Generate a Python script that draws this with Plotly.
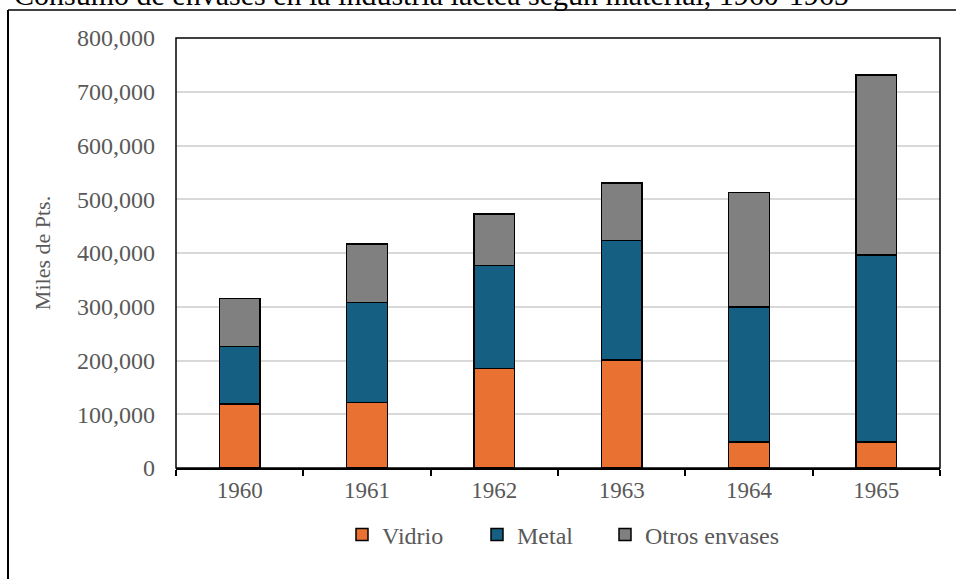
import plotly.graph_objects as go

years = ["1960", "1961", "1962", "1963", "1964", "1965"]
vidrio = [119000, 122000, 185000, 201000, 48000, 48000]
metal = [107000, 186000, 192000, 222000, 252000, 348000]
otros = [89000, 109000, 96000, 107000, 213000, 335000]
series_names = ["Vidrio", "Metal", "Otros envases"]
colors = ["#E97132", "#156082", "#808080"]
y_ticks = [0, 100000, 200000, 300000, 400000, 500000, 600000, 700000, 800000]
title_text = "Consumo de envases en la industria láctea según material, 1960-1965"
y_title = "Miles de Pts."

FONT = "Liberation Serif"

W, H = 956, 579
L, R, T, B = 176, 16, 38, 111
pw, ph = W - L - R, H - T - B

def px_x(p):
    return (p - L) / pw

def px_y(p):
    return 1 - (p - T) / ph

legend_ids = ["legend", "legend2", "legend3"]
legend_x_px = [342, 477, 605]

fig = go.Figure()
for name, vals, col, lid in zip(series_names, [vidrio, metal, otros], colors, legend_ids):
    fig.add_trace(go.Bar(
        x=years, y=vals, name=name, width=0.32, legend=lid,
        marker=dict(color=col, line=dict(color="black", width=1.5)),
    ))

legend_common = dict(orientation="h", xanchor="left", y=px_y(535), yanchor="middle",
                     font=dict(family=FONT, size=24, color="#595959"),
                     bgcolor="rgba(0,0,0,0)")

fig.update_layout(
    width=W, height=H,
    barmode="stack",
    plot_bgcolor="white", paper_bgcolor="white",
    margin=dict(l=L, r=R, t=T, b=B, pad=0),
    font=dict(family=FONT, size=22, color="#595959"),
    showlegend=True,
    legend=dict(x=px_x(legend_x_px[0]), **legend_common),
    legend2=dict(x=px_x(legend_x_px[1]), **legend_common),
    legend3=dict(x=px_x(legend_x_px[2]), **legend_common),
    xaxis=dict(type="category", showline=True, linecolor="black", linewidth=2,
               ticks="outside", tickson="boundaries", ticklen=6, tickcolor="black", tickwidth=1.5,
               tickfont=dict(family=FONT, size=23, color="#595959"), showgrid=False,
               mirror=False, fixedrange=True),
    yaxis=dict(range=[0, 800000], tickvals=y_ticks, tickformat=",", showgrid=True,
               gridcolor="#D9D9D9", gridwidth=1.5, zeroline=False, showline=False,
               ticks="", ticklabelstandoff=20,
               tickfont=dict(family=FONT, size=24, color="#595959"),
               title=dict(text=y_title, font=dict(family=FONT, size=22, color="#595959"), standoff=20)),
)

# plot-area border
fig.add_shape(type="rect", xref="paper", yref="paper", x0=0, x1=1, y0=0, y1=1,
              line=dict(color="black", width=1.5), fillcolor="rgba(0,0,0,0)", layer="above")
# outer frame lines (top and left)
fig.add_shape(type="line", xref="paper", yref="paper", x0=px_x(8), x1=px_x(1000), y0=px_y(10), y1=px_y(10),
              line=dict(color="black", width=1.5))
fig.add_shape(type="line", xref="paper", yref="paper", x0=px_x(8), x1=px_x(8), y0=px_y(10), y1=px_y(600),
              line=dict(color="black", width=2))

fig.add_annotation(text=title_text, xref="paper", yref="paper", x=px_x(12), xanchor="left",
                   y=px_y(-6), yanchor="middle", showarrow=False,
                   font=dict(family=FONT, size=30, color="black"))

fig.write_html("out.html")
